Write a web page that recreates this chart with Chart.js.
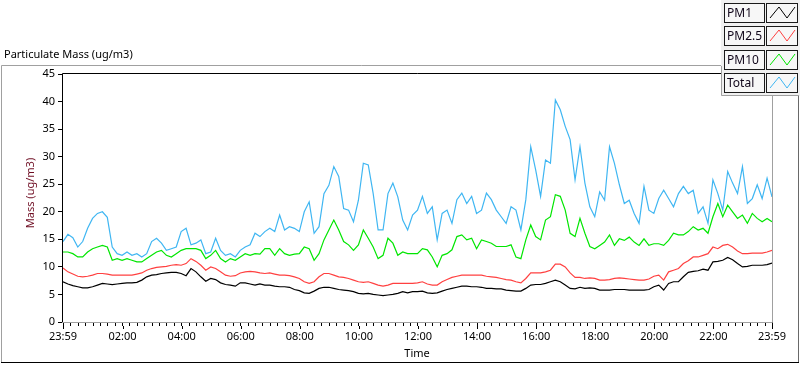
<!DOCTYPE html>
<html>
<head>
<meta charset="utf-8">
<script src="https://cdn.jsdelivr.net/npm/chart.js@4"></script>
<style>
  html, body { margin: 0; padding: 0; background: #ffffff; }
  #chart-pm { display: block; }
</style>
</head>
<body>
<canvas id="chart-pm" width="800" height="365"></canvas>
<script>
// one sample every 10 minutes, starting at 23:59
const SAMPLE_STEP_MIN = 10;

const seriesNames = ['PM1', 'PM2.5', 'PM10', 'Total'];

const pm1 = [
    7.3, 6.9, 6.6, 6.4, 6.2, 6.2, 6.4, 6.7, 7.0, 6.9, 6.8, 6.9, 7.0, 7.1, 7.1, 7.2, 7.6, 8.2, 8.5, 8.6,
    8.8, 8.9, 9.0, 9.0, 8.8, 8.4, 9.7, 9.1, 8.2, 7.4, 7.9, 7.7, 7.1, 6.8, 6.7, 6.5, 7.1,
    7.1, 6.9, 6.7, 6.9, 6.7, 6.7, 6.5, 6.4, 6.4, 6.3, 5.9, 5.7, 5.3, 5.2, 5.6, 6.1, 6.3, 6.3, 6.1, 5.9,
    5.8, 5.7, 5.5, 5.2, 5.1, 5.2, 5.0, 4.9, 4.8, 4.9, 5.0, 5.2, 5.5, 5.3, 5.5,
    5.5, 5.6, 5.3, 5.2, 5.3, 5.6, 5.9, 6.1, 6.3, 6.5, 6.5, 6.4, 6.4, 6.3, 6.1, 6.1, 6.0, 6.0, 5.8, 5.7,
    5.6, 5.6, 6.1, 6.7, 6.8, 6.8, 7.0, 7.3, 7.6, 7.3, 6.7, 6.1, 6.0, 6.3, 6.1, 6.2,
    6.1, 5.8, 5.8, 5.8, 5.9, 5.9, 5.9, 5.8, 5.8, 5.8, 5.8, 5.9, 6.4, 6.7, 5.8, 7.0, 7.3, 7.3, 8.2, 9.0,
    9.2, 9.3, 9.6, 9.4, 10.9, 11.0, 11.2, 11.7, 11.3, 10.6, 10.0, 10.1, 10.3, 10.3, 10.3, 10.4, 10.7
];

const pm25 = [
    9.8, 9.1, 8.7, 8.3, 8.2, 8.3, 8.5, 8.8, 8.8, 8.7, 8.5, 8.5, 8.5, 8.5, 8.5, 8.7, 8.9, 9.4, 9.7, 9.9,
    10.0, 10.1, 10.3, 10.4, 10.3, 10.6, 11.5, 11.0, 10.3, 9.4, 10.0, 9.7, 9.1, 8.5, 8.3, 8.4, 8.9,
    9.1, 9.2, 9.1, 8.9, 8.8, 8.9, 8.7, 8.5, 8.5, 8.4, 8.2, 7.9, 7.3, 7.0, 7.3, 8.2, 8.8, 8.8, 8.5, 8.2,
    8.1, 7.9, 7.6, 7.3, 7.2, 7.3, 7.0, 6.7, 6.5, 6.7, 7.0, 7.0, 7.0, 7.0, 7.0,
    7.1, 7.3, 6.9, 6.7, 6.7, 7.3, 7.7, 8.1, 8.3, 8.5, 8.5, 8.5, 8.5, 8.5, 8.3, 8.2, 8.1, 7.9, 7.7, 7.6,
    7.3, 7.1, 7.9, 8.9, 8.9, 8.9, 9.1, 9.4, 10.5, 10.5, 10.0, 8.9, 8.1, 8.1, 7.9, 8.0,
    7.9, 7.6, 7.6, 7.7, 7.9, 8.0, 7.9, 7.8, 7.7, 7.6, 7.6, 7.8, 8.3, 8.5, 7.6, 9.1, 9.4, 9.7, 10.6, 11.1,
    11.8, 11.8, 12.1, 12.4, 13.6, 13.3, 13.9, 14.1, 13.6, 12.9, 12.4, 12.4, 12.5, 12.5, 12.5, 12.7, 13.0
];

const pm10 = [
    12.7, 12.7, 12.4, 11.8, 11.8, 12.7, 13.3, 13.6, 13.9, 13.6, 11.2, 11.5, 11.2, 11.5, 11.2, 10.9, 10.9, 11.5, 12.1, 12.7,
    13.0, 12.1, 11.8, 12.4, 13.0, 13.3, 13.3, 13.3, 13.0, 11.5, 12.1, 13.0, 11.5, 10.9, 11.5, 11.2, 11.8,
    12.4, 12.1, 12.4, 12.3, 13.3, 13.3, 12.1, 13.3, 12.4, 12.1, 12.3, 12.4, 13.6, 13.3, 11.2, 12.4, 14.9, 16.7, 18.5, 16.7,
    14.6, 14.0, 13.0, 14.0, 16.7, 15.2, 13.6, 11.5, 12.1, 15.2, 14.3, 12.1, 12.7, 12.4, 12.4,
    12.4, 13.3, 13.1, 11.8, 10.0, 12.1, 12.4, 13.1, 15.5, 15.8, 14.9, 15.2, 13.3, 14.9, 14.6, 14.3, 13.7, 13.7, 13.7, 14.0,
    11.8, 11.5, 14.9, 17.6, 15.5, 14.9, 18.5, 19.1, 23.1, 22.8, 20.3, 16.1, 15.5, 18.8, 16.1, 13.7,
    13.3, 13.9, 14.5, 15.8, 13.9, 15.1, 14.8, 15.4, 14.5, 13.9, 15.1, 13.9, 14.2, 14.2, 13.9, 14.8, 16.1, 15.8, 15.8, 16.4,
    17.3, 16.7, 17.0, 16.1, 19.1, 21.5, 19.1, 21.2, 20.0, 18.8, 19.4, 17.9, 19.7, 18.8, 18.2, 18.8, 18.2
];

const total = [
    14.6, 15.9, 15.3, 13.6, 14.6, 17.0, 18.8, 19.7, 20.0, 19.0, 13.6, 12.4, 12.1, 12.7, 12.1, 12.4, 11.8, 12.4, 14.6, 15.2,
    14.3, 13.0, 13.3, 13.6, 16.4, 17.0, 14.0, 14.3, 14.9, 12.4, 12.7, 15.2, 13.0, 12.1, 12.4, 11.8, 13.0,
    13.6, 14.0, 16.1, 15.5, 16.4, 17.0, 16.4, 19.4, 16.7, 17.3, 17.0, 16.4, 20.0, 21.8, 16.1, 17.3, 23.3, 24.8, 28.2, 26.4,
    20.6, 20.3, 18.2, 22.1, 28.8, 28.5, 23.3, 16.7, 16.7, 23.3, 25.2, 22.7, 18.5, 16.7, 19.4,
    20.3, 22.8, 19.7, 20.9, 14.9, 19.7, 20.3, 17.9, 22.2, 23.4, 21.5, 22.8, 19.7, 20.3, 23.4, 22.2, 20.3, 19.1, 17.9, 20.9,
    20.3, 16.7, 22.2, 31.8, 27.6, 22.8, 29.4, 28.8, 40.3, 38.5, 35.5, 33.1, 25.8, 31.8, 25.2, 20.9,
    19.1, 23.6, 22.1, 31.8, 28.8, 24.9, 21.5, 22.1, 19.7, 17.9, 24.6, 20.3, 19.7, 22.4, 23.9, 22.4, 20.9, 23.3, 24.6, 23.3,
    23.9, 19.7, 20.9, 17.9, 25.8, 23.3, 20.3, 27.3, 25.2, 23.3, 28.2, 21.5, 22.4, 24.9, 22.4, 26.1, 22.7
];

// x tick labels (minutes after 23:59)
const timeTickValues = [0, 121, 241, 361, 481, 601, 721, 841, 961, 1081, 1201, 1321, 1440];
const timeTickLabels = ['23:59', '02:00', '04:00', '06:00', '08:00', '10:00', '12:00',
    '14:00', '16:00', '18:00', '20:00', '22:00', '23:59'];

const seriesColors = ['#000000', '#ff4040', '#00e600', '#3fb6f2'];

const FONT = "'Noto Sans', sans-serif";
Chart.defaults.font.family = FONT;
Chart.defaults.font.size = 11;
Chart.defaults.color = '#000000';

function toPoints(values) {
    return values.map((v, i) => ({ x: i * SAMPLE_STEP_MIN, y: v }));
}

// minor ticks every 15 min on top of the labelled ones
function buildTimeTicks() {
    const ticks = [0];
    for (let m = 16; m < 1440; m += 15) ticks.push(m);
    ticks.push(1440);
    return ticks;
}

// frame, titles and legend boxes, drawn LabVIEW style
const labviewFrame = {
    id: 'labviewFrame',
    beforeDraw(chart) {
        const c = chart.ctx;
        c.save();
        c.fillStyle = '#ffffff';
        c.fillRect(0, 0, chart.width, chart.height);
        c.restore();
    },
    afterDraw(chart) {
        const c = chart.ctx;
        const a = chart.chartArea;
        const xScale = chart.scales.x;
        c.save();
        c.lineWidth = 1;

        // longer marks for the labelled times
        c.strokeStyle = '#000000';
        timeTickValues.forEach(v => {
            const px = Math.round(xScale.getPixelForValue(v)) + 0.5;
            c.beginPath();
            c.moveTo(px, a.bottom + 4); c.lineTo(px, a.bottom + 7);
            c.stroke();
        });

        // outer frame
        c.strokeStyle = '#a0a0a0';
        c.beginPath();
        c.moveTo(1.5, 362.5); c.lineTo(1.5, 65.5); c.lineTo(722, 65.5);
        c.stroke();
        c.strokeStyle = '#696969';
        c.beginPath();
        c.moveTo(798.5, 96); c.lineTo(798.5, 362.5);
        c.stroke();
        c.strokeStyle = '#000000';
        c.beginPath();
        c.moveTo(1, 362.5); c.lineTo(799, 362.5);
        c.stroke();

        // plot area border
        c.strokeStyle = '#000000';
        c.beginPath();
        c.moveTo(a.left - 0.5, a.bottom); c.lineTo(a.left - 0.5, a.top - 0.5); c.lineTo(a.right, a.top - 0.5);
        c.stroke();
        c.strokeStyle = '#a0a0a0';
        c.beginPath();
        c.moveTo(a.right + 0.5, a.top); c.lineTo(a.right + 0.5, a.bottom + 0.5); c.lineTo(a.left - 1, a.bottom + 0.5);
        c.stroke();

        // titles
        c.font = '11px ' + FONT;
        c.fillStyle = '#000000';
        c.textBaseline = 'middle';
        c.textAlign = 'left';
        c.fillText('Particulate Mass (ug/m3)', 4, 55);
        c.textAlign = 'center';
        c.fillText('Time', 417, 354);
        c.save();
        c.translate(31, 193);
        c.rotate(-Math.PI / 2);
        c.fillStyle = '#6e0c22';
        c.fillText('Mass (ug/m3)', 0, 0);
        c.restore();

        // legend
        c.fillStyle = '#f0f0f0';
        c.fillRect(721, 0, 79, 96);
        c.strokeStyle = '#a0a0a0';
        c.beginPath();
        c.moveTo(721.5, 66); c.lineTo(721.5, 95.5); c.lineTo(799, 95.5);
        c.stroke();
        seriesNames.forEach((name, i) => {
            const y0 = Math.round(4 + i * 23.3);
            c.fillStyle = '#f7f7f7';
            c.fillRect(725, y0, 39, 18);
            c.fillRect(767, y0, 30, 18);
            c.strokeStyle = '#1a1a1a';
            c.strokeRect(724.5, y0 - 0.5, 40, 19);
            c.strokeRect(766.5, y0 - 0.5, 31, 19);
            c.fillStyle = '#10061a';
            c.textAlign = 'left';
            c.font = '12px ' + FONT;
            c.fillText(name, 727, y0 + 9.5);
            c.strokeStyle = seriesColors[i];
            c.beginPath();
            c.moveTo(770, y0 + 14); c.lineTo(779, y0 + 3); c.lineTo(787, y0 + 14); c.lineTo(795, y0 + 3);
            c.stroke();
        });
        c.restore();
    }
};

const ctx = document.getElementById('chart-pm');

new Chart(ctx, {
    type: 'line',
    data: {
        datasets: [pm1, pm25, pm10, total].map((vals, i) => ({
            label: seriesNames[i],
            data: toPoints(vals),
            borderColor: seriesColors[i],
            borderWidth: 1.2,
            pointRadius: 0,
            tension: 0,
            fill: false
        }))
    },
    options: {
        responsive: false,
        animation: false,
        layout: {
            padding: { left: 0, top: 74, right: 28, bottom: 0 }
        },
        plugins: {
            legend: { display: false },
            tooltip: { enabled: false }
        },
        scales: {
            x: {
                type: 'linear',
                min: 0,
                max: 1440,
                afterBuildTicks: scale => {
                    scale.ticks = buildTimeTicks().map(v => ({ value: v }));
                },
                afterFit: scale => { scale.height = 43; },
                ticks: {
                    autoSkip: false,
                    maxRotation: 0,
                    padding: 4,
                    callback: value => {
                        const idx = timeTickValues.indexOf(value);
                        return idx >= 0 ? timeTickLabels[idx] : '';
                    }
                },
                grid: {
                    drawOnChartArea: false,
                    tickLength: 4,
                    tickColor: '#000000'
                },
                border: { display: false }
            },
            y: {
                min: 0,
                max: 45,
                afterFit: scale => { scale.width = 63; },
                ticks: {
                    stepSize: 5,
                    padding: 3
                },
                grid: {
                    drawOnChartArea: false,
                    tickLength: 5,
                    tickColor: '#000000'
                },
                border: { display: false }
            }
        }
    },
    plugins: [labviewFrame]
});
</script>
</body>
</html>
